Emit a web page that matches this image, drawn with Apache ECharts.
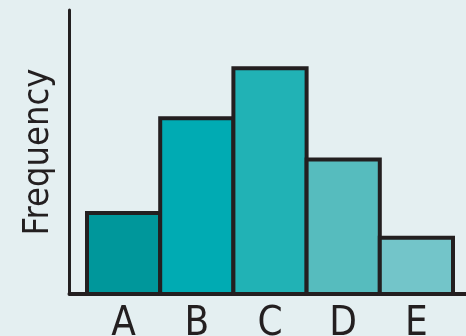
<!DOCTYPE html>
<html>
<head>
<meta charset="utf-8">
<script src="https://cdn.jsdelivr.net/npm/echarts@6/dist/echarts.min.js"></script>
<style>
  html, body { margin: 0; padding: 0; background: #e4eff1; }
  #chart { width: 466px; height: 336px; }
</style>
</head>
<body>
<div id="chart"></div>
<script>
// Frequency histogram over five classes
const categories = ['A', 'B', 'C', 'D', 'E'];
const frequencies = [7.4, 15.65, 20, 12.05, 5.25];
const barColors = ['#00979b', '#00abb3', '#21b2b5', '#56bcbe', '#73c5c9'];
const axisMax = 24.9;

const ink = '#231f20';
const labelFont = '"DejaVu Sans Condensed", "Liberation Sans", sans-serif';
const borderW = 4;

const chart = echarts.init(document.getElementById('chart'));

// width of one class band in the bar grid, so neighbouring bars share one border
const barGridLeft = 87, barGridRight = 13;
const band = (466 - barGridLeft - barGridRight) / categories.length;

chart.setOption({
  backgroundColor: '#e4eff1',
  animation: false,
  grid: [
    // frame carrying the two axis lines
    { left: 69.5, right: 0, top: 10, bottom: 42, outerBoundsMode: 'none', containLabel: false },
    // plotting area for the bars
    { left: barGridLeft, right: barGridRight, top: 10, bottom: 40, outerBoundsMode: 'none', containLabel: false }
  ],
  xAxis: [
    {
      gridIndex: 0, type: 'value', min: 0, max: 1,
      axisLine: { show: true, lineStyle: { color: ink, width: 4 } },
      axisTick: { show: false }, axisLabel: { show: false }, splitLine: { show: false }
    },
    {
      gridIndex: 1, type: 'category', data: categories,
      axisLine: { show: false }, axisTick: { show: false }, splitLine: { show: false },
      axisLabel: { color: ink, fontSize: 40, fontFamily: labelFont, margin: 9 }
    }
  ],
  yAxis: [
    {
      gridIndex: 0, type: 'value', min: 0, max: 1,
      name: 'Frequency', nameLocation: 'middle', nameGap: 13,
      nameTextStyle: { color: ink, fontSize: 36, fontFamily: labelFont },
      axisLine: { show: true, lineStyle: { color: ink, width: 3 } },
      axisTick: { show: false }, axisLabel: { show: false }, splitLine: { show: false }
    },
    {
      gridIndex: 1, type: 'value', min: 0, max: axisMax,
      axisLine: { show: false }, axisTick: { show: false },
      axisLabel: { show: false }, splitLine: { show: false }
    }
  ],
  series: [{
    type: 'bar',
    xAxisIndex: 1,
    yAxisIndex: 1,
    barWidth: band + borderW,
    z: 1,
    data: frequencies.map((v, i) => ({
      value: v,
      itemStyle: { color: barColors[i], borderColor: ink, borderWidth: borderW }
    }))
  }]
});
</script>
</body>
</html>
